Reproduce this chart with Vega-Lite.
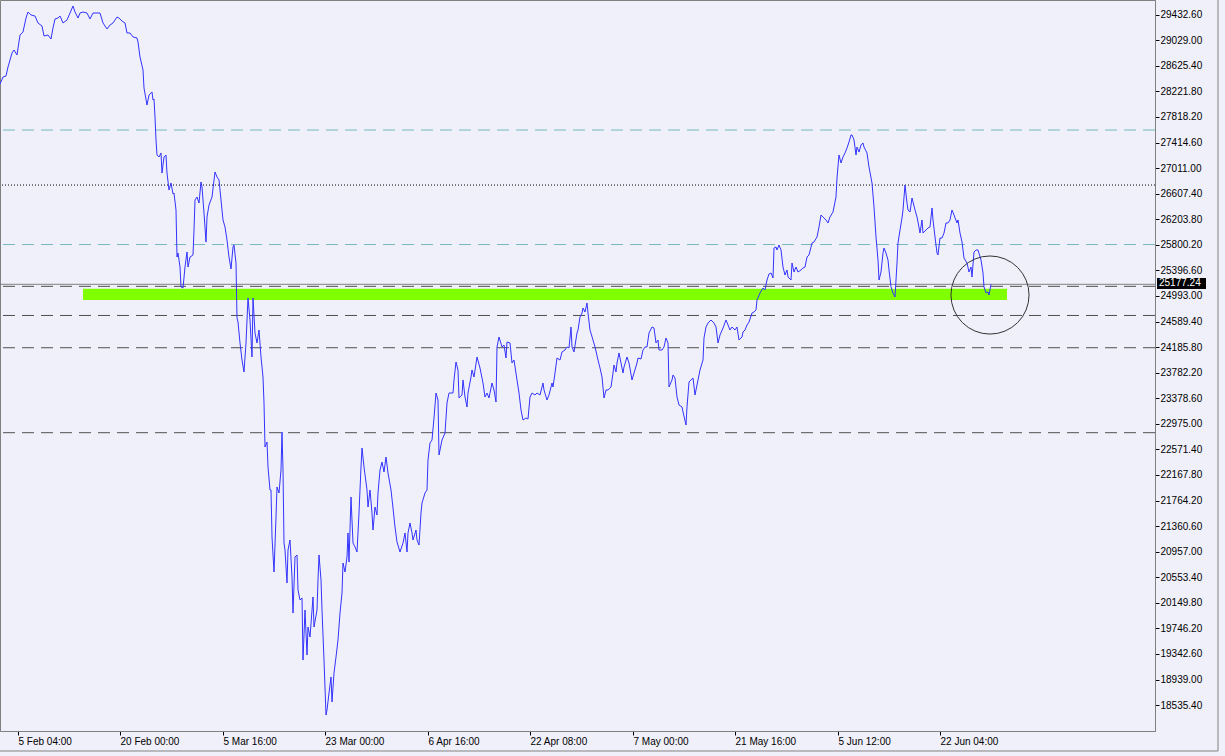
{
  "$schema": "https://vega.github.io/schema/vega-lite/v6.json",
  "width": 1155,
  "height": 731,
  "autosize": {"type": "none"},
  "padding": {"left": 0, "top": 0, "right": 70, "bottom": 25},
  "background": "#f0f0fa",
  "config": {
    "view": {"stroke": "#808080", "fill": "#f0f0fa"},
    "axis": {
      "labelFont": "Liberation Sans",
      "labelFontSize": 10,
      "labelColor": "#000000",
      "tickColor": "#000000",
      "domainColor": "#808080",
      "grid": false,
      "labelOverlap": false,
      "labelFlush": false,
      "labelBound": false
    }
  },
  "datasets": {
    "price": [
      {"i":0,"p":28339},{"i":3,"p":28449},{"i":6,"p":28465},{"i":8,"p":28607},{"i":12,"p":28828},{"i":14,"p":28875},{"i":17,"p":28797},{"i":20,"p":29112},{"i":23,"p":29160},{"i":26,"p":29380},{"i":28,"p":29475},{"i":31,"p":29428},{"i":35,"p":29412},{"i":38,"p":29302},{"i":42,"p":29254},{"i":44,"p":29096},{"i":48,"p":29112},{"i":51,"p":29049},{"i":53,"p":29223},{"i":55,"p":29365},{"i":58,"p":29380},{"i":60,"p":29412},{"i":63,"p":29302},{"i":67,"p":29349},{"i":70,"p":29459},{"i":73,"p":29570},{"i":75,"p":29475},{"i":78,"p":29380},{"i":80,"p":29459},{"i":83,"p":29475},{"i":87,"p":29459},{"i":90,"p":29365},{"i":93,"p":29459},{"i":97,"p":29459},{"i":100,"p":29459},{"i":103,"p":29302},{"i":107,"p":29207},{"i":110,"p":29270},{"i":113,"p":29302},{"i":117,"p":29396},{"i":119,"p":29380},{"i":122,"p":29333},{"i":125,"p":29302},{"i":127,"p":29144},{"i":130,"p":29144},{"i":133,"p":29081},{"i":137,"p":29065},{"i":138,"p":29002},{"i":140,"p":28765},{"i":143,"p":28560},{"i":144,"p":28276},{"i":147,"p":28007},{"i":149,"p":28165},{"i":152,"p":28213},{"i":153,"p":28086},{"i":154,"p":28102},{"i":155,"p":27818},{"i":156,"p":27455},{"i":157,"p":27218},{"i":159,"p":27187},{"i":161,"p":27250},{"i":162,"p":26934},{"i":164,"p":27187},{"i":166,"p":27218},{"i":167,"p":26934},{"i":169,"p":26666},{"i":171,"p":26776},{"i":173,"p":26603},{"i":174,"p":26618},{"i":176,"p":26350},{"i":177,"p":25608},{"i":178,"p":25671},{"i":180,"p":25450},{"i":181,"p":25135},{"i":183,"p":25119},{"i":185,"p":25450},{"i":187,"p":25687},{"i":188,"p":25450},{"i":190,"p":25608},{"i":193,"p":25640},{"i":194,"p":26034},{"i":195,"p":26508},{"i":197,"p":26555},{"i":199,"p":26460},{"i":201,"p":26792},{"i":202,"p":26713},{"i":204,"p":26303},{"i":206,"p":25845},{"i":207,"p":26240},{"i":209,"p":26429},{"i":212,"p":26555},{"i":215,"p":26950},{"i":217,"p":26871},{"i":219,"p":26824},{"i":221,"p":26508},{"i":223,"p":26192},{"i":225,"p":26082},{"i":227,"p":25876},{"i":229,"p":25608},{"i":231,"p":25419},{"i":233,"p":25766},{"i":234,"p":25798},{"i":236,"p":25513},{"i":237,"p":24645},{"i":238,"p":24582},{"i":240,"p":24251},{"i":242,"p":23982},{"i":244,"p":23793},{"i":246,"p":24251},{"i":248,"p":24961},{"i":250,"p":24614},{"i":252,"p":24030},{"i":253,"p":24961},{"i":255,"p":24409},{"i":257,"p":24251},{"i":259,"p":24456},{"i":261,"p":24030},{"i":263,"p":23714},{"i":264,"p":23304},{"i":265,"p":22609},{"i":267,"p":22688},{"i":268,"p":22294},{"i":270,"p":21930},{"i":271,"p":21930},{"i":272,"p":21189},{"i":274,"p":20636},{"i":276,"p":21504},{"i":277,"p":21978},{"i":279,"p":21883},{"i":281,"p":22246},{"i":282,"p":22846},{"i":283,"p":22246},{"i":284,"p":21094},{"i":285,"p":20983},{"i":287,"p":20463},{"i":288,"p":20983},{"i":290,"p":21141},{"i":292,"p":20557},{"i":293,"p":19989},{"i":295,"p":20873},{"i":297,"p":20905},{"i":298,"p":20352},{"i":300,"p":20194},{"i":302,"p":20226},{"i":303,"p":19247},{"i":305,"p":20036},{"i":307,"p":19326},{"i":308,"p":19768},{"i":310,"p":19610},{"i":313,"p":20242},{"i":314,"p":19768},{"i":317,"p":20036},{"i":318,"p":20510},{"i":319,"p":20905},{"i":321,"p":20510},{"i":322,"p":20036},{"i":324,"p":19247},{"i":326,"p":18379},{"i":327,"p":18458},{"i":329,"p":18726},{"i":331,"p":18979},{"i":332,"p":18584},{"i":334,"p":19042},{"i":336,"p":19295},{"i":338,"p":19563},{"i":340,"p":19989},{"i":342,"p":20305},{"i":343,"p":20778},{"i":345,"p":20636},{"i":347,"p":20873},{"i":348,"p":21252},{"i":349,"p":20794},{"i":351,"p":21820},{"i":353,"p":21094},{"i":355,"p":21031},{"i":357,"p":20952},{"i":359,"p":21567},{"i":361,"p":22294},{"i":362,"p":22593},{"i":364,"p":22294},{"i":367,"p":21930},{"i":368,"p":21662},{"i":370,"p":21930},{"i":372,"p":21567},{"i":373,"p":21299},{"i":375,"p":21662},{"i":377,"p":21536},{"i":378,"p":21883},{"i":380,"p":22246},{"i":382,"p":22372},{"i":384,"p":22215},{"i":386,"p":22451},{"i":388,"p":22199},{"i":391,"p":21930},{"i":393,"p":21646},{"i":395,"p":21346},{"i":397,"p":21110},{"i":400,"p":20952},{"i":403,"p":21094},{"i":405,"p":21252},{"i":407,"p":20952},{"i":408,"p":21252},{"i":410,"p":21410},{"i":412,"p":21252},{"i":413,"p":21141},{"i":416,"p":21299},{"i":417,"p":21141},{"i":419,"p":21062},{"i":421,"p":21567},{"i":422,"p":21725},{"i":425,"p":21883},{"i":427,"p":21930},{"i":428,"p":22404},{"i":430,"p":22672},{"i":432,"p":22720},{"i":434,"p":23067},{"i":436,"p":23461},{"i":438,"p":23351},{"i":439,"p":22483},{"i":442,"p":22720},{"i":445,"p":22830},{"i":447,"p":23304},{"i":449,"p":23461},{"i":453,"p":23461},{"i":454,"p":23667},{"i":456,"p":23951},{"i":458,"p":23825},{"i":459,"p":23383},{"i":462,"p":23430},{"i":463,"p":23667},{"i":465,"p":23398},{"i":467,"p":23241},{"i":468,"p":23461},{"i":471,"p":23714},{"i":472,"p":23825},{"i":474,"p":23714},{"i":477,"p":24030},{"i":480,"p":23856},{"i":483,"p":23619},{"i":485,"p":23398},{"i":487,"p":23461},{"i":489,"p":23383},{"i":492,"p":23619},{"i":494,"p":23509},{"i":496,"p":23319},{"i":497,"p":24188},{"i":499,"p":24345},{"i":502,"p":24188},{"i":504,"p":24219},{"i":506,"p":24014},{"i":507,"p":24267},{"i":510,"p":24251},{"i":512,"p":23935},{"i":514,"p":23982},{"i":517,"p":23667},{"i":519,"p":23461},{"i":521,"p":23193},{"i":523,"p":23035},{"i":526,"p":23067},{"i":528,"p":23051},{"i":530,"p":23398},{"i":532,"p":23461},{"i":535,"p":23430},{"i":537,"p":23461},{"i":540,"p":23430},{"i":543,"p":23619},{"i":544,"p":23509},{"i":547,"p":23351},{"i":549,"p":23430},{"i":552,"p":23619},{"i":553,"p":23556},{"i":555,"p":23777},{"i":557,"p":24014},{"i":560,"p":23982},{"i":562,"p":24109},{"i":565,"p":24140},{"i":567,"p":24188},{"i":569,"p":24172},{"i":571,"p":24503},{"i":572,"p":24188},{"i":574,"p":24109},{"i":577,"p":24409},{"i":578,"p":24456},{"i":580,"p":24661},{"i":582,"p":24724},{"i":583,"p":24803},{"i":585,"p":24740},{"i":587,"p":24882},{"i":588,"p":24724},{"i":590,"p":24456},{"i":593,"p":24298},{"i":595,"p":24188},{"i":598,"p":23982},{"i":600,"p":23856},{"i":602,"p":23714},{"i":604,"p":23383},{"i":606,"p":23509},{"i":608,"p":23509},{"i":611,"p":23556},{"i":613,"p":23777},{"i":614,"p":23903},{"i":616,"p":23793},{"i":617,"p":23935},{"i":619,"p":24093},{"i":621,"p":23935},{"i":623,"p":23777},{"i":624,"p":23872},{"i":627,"p":24030},{"i":629,"p":23935},{"i":632,"p":23667},{"i":634,"p":23777},{"i":637,"p":23935},{"i":638,"p":24014},{"i":641,"p":23998},{"i":643,"p":24140},{"i":645,"p":24188},{"i":647,"p":24188},{"i":649,"p":24409},{"i":652,"p":24503},{"i":654,"p":24487},{"i":656,"p":24251},{"i":658,"p":24298},{"i":659,"p":24140},{"i":662,"p":24140},{"i":664,"p":24188},{"i":666,"p":24330},{"i":668,"p":24251},{"i":669,"p":23556},{"i":672,"p":23667},{"i":673,"p":23746},{"i":675,"p":23698},{"i":677,"p":23398},{"i":679,"p":23272},{"i":682,"p":23241},{"i":683,"p":23162},{"i":686,"p":22956},{"i":687,"p":23241},{"i":689,"p":23635},{"i":691,"p":23667},{"i":693,"p":23698},{"i":695,"p":23430},{"i":698,"p":23667},{"i":700,"p":23825},{"i":703,"p":23982},{"i":704,"p":24330},{"i":706,"p":24503},{"i":708,"p":24566},{"i":711,"p":24614},{"i":714,"p":24566},{"i":716,"p":24503},{"i":718,"p":24251},{"i":720,"p":24377},{"i":723,"p":24487},{"i":726,"p":24614},{"i":728,"p":24535},{"i":730,"p":24456},{"i":732,"p":24503},{"i":735,"p":24456},{"i":737,"p":24503},{"i":739,"p":24298},{"i":742,"p":24345},{"i":743,"p":24424},{"i":745,"p":24456},{"i":747,"p":24535},{"i":749,"p":24582},{"i":752,"p":24724},{"i":754,"p":24740},{"i":756,"p":24772},{"i":757,"p":24929},{"i":760,"p":25040},{"i":763,"p":25119},{"i":765,"p":25087},{"i":767,"p":25245},{"i":769,"p":25340},{"i":771,"p":25356},{"i":773,"p":25277},{"i":774,"p":25750},{"i":776,"p":25766},{"i":777,"p":25719},{"i":779,"p":25798},{"i":781,"p":25719},{"i":783,"p":25450},{"i":785,"p":25324},{"i":787,"p":25403},{"i":788,"p":25292},{"i":791,"p":25245},{"i":792,"p":25513},{"i":794,"p":25371},{"i":796,"p":25450},{"i":798,"p":25371},{"i":801,"p":25403},{"i":803,"p":25435},{"i":805,"p":25450},{"i":807,"p":25608},{"i":809,"p":25640},{"i":812,"p":25829},{"i":814,"p":25845},{"i":817,"p":25924},{"i":819,"p":26082},{"i":821,"p":26271},{"i":823,"p":26240},{"i":826,"p":26192},{"i":828,"p":26145},{"i":830,"p":26240},{"i":833,"p":26318},{"i":836,"p":26555},{"i":837,"p":26855},{"i":839,"p":27218},{"i":841,"p":27092},{"i":843,"p":27187},{"i":845,"p":27250},{"i":847,"p":27329},{"i":849,"p":27423},{"i":851,"p":27534},{"i":852,"p":27534},{"i":854,"p":27455},{"i":856,"p":27218},{"i":857,"p":27344},{"i":859,"p":27265},{"i":861,"p":27376},{"i":863,"p":27408},{"i":864,"p":27344},{"i":867,"p":27250},{"i":869,"p":27029},{"i":872,"p":26776},{"i":874,"p":26397},{"i":876,"p":25924},{"i":878,"p":25561},{"i":879,"p":25245},{"i":881,"p":25371},{"i":883,"p":25671},{"i":884,"p":25750},{"i":886,"p":25671},{"i":888,"p":25561},{"i":889,"p":25403},{"i":891,"p":25135},{"i":893,"p":25040},{"i":895,"p":24977},{"i":897,"p":25513},{"i":898,"p":25829},{"i":900,"p":26034},{"i":902,"p":26224},{"i":903,"p":26350},{"i":905,"p":26745},{"i":907,"p":26460},{"i":908,"p":26350},{"i":910,"p":26318},{"i":912,"p":26539},{"i":913,"p":26476},{"i":915,"p":26350},{"i":917,"p":26240},{"i":918,"p":26161},{"i":920,"p":25987},{"i":922,"p":26192},{"i":923,"p":25987},{"i":926,"p":26034},{"i":928,"p":26066},{"i":930,"p":26082},{"i":932,"p":26382},{"i":933,"p":26192},{"i":935,"p":25924},{"i":937,"p":25671},{"i":938,"p":25640},{"i":940,"p":25908},{"i":942,"p":25908},{"i":944,"p":25987},{"i":946,"p":26145},{"i":948,"p":26145},{"i":950,"p":26192},{"i":952,"p":26350},{"i":954,"p":26271},{"i":957,"p":26145},{"i":958,"p":26192},{"i":960,"p":25987},{"i":962,"p":25845},{"i":964,"p":25592},{"i":967,"p":25513},{"i":969,"p":25371},{"i":971,"p":25450},{"i":972,"p":25292},{"i":974,"p":25687},{"i":976,"p":25719},{"i":978,"p":25719},{"i":981,"p":25561},{"i":983,"p":25356},{"i":984,"p":25135},{"i":986,"p":25040},{"i":988,"p":25056},{"i":989,"p":25008},{"i":991,"p":25177}
    ],
    "levels": [
      {"p": 27612, "kind": "teal"},
      {"p": 25805, "kind": "teal"},
      {"p": 26744, "kind": "dotted"},
      {"p": 25177.24, "kind": "bid"},
      {"p": 25145, "kind": "dashed"},
      {"p": 24685, "kind": "dashed"},
      {"p": 24176, "kind": "dashed"},
      {"p": 22835, "kind": "dashed"}
    ],
    "zones": [
      {"from": 83, "to": 1007, "lo": 24930, "hi": 25105}
    ],
    "marker": [
      {"i": 990, "p": 25008}
    ]
  },
  "layer": [
    {
      "data": {"name": "price"},
      "mark": {"type": "line", "color": "#3333ff", "strokeWidth": 1, "opacity": 0},
      "encoding": {
        "x": {
          "field": "i",
          "type": "quantitative",
          "scale": {"domain": [0, 1155], "nice": false, "zero": false},
          "axis": {
            "orient": "bottom",
            "title": null,
            "values": [18, 120, 223, 325, 428, 530, 633, 735, 838, 940],
            "labelExpr": "['5 Feb 04:00','20 Feb 00:00','5 Mar 16:00','23 Mar 00:00','6 Apr 16:00','22 Apr 08:00','7 May 00:00','21 May 16:00','5 Jun 12:00','22 Jun 04:00'][indexof([18,120,223,325,428,530,633,735,838,940], datum.value)]",
            "labelAlign": "left",
            "labelBaseline": "top",
            "labelOverlap": false,
            "tickCount": 40,
            "tickSize": 4,
            "labelPadding": 1
          }
        },
        "y": {
          "field": "p",
          "type": "quantitative",
          "scale": {"domain": [18126.5, 29664.6], "nice": false, "zero": false},
          "axis": {
            "orient": "right",
            "title": null,
            "values": [18535.4, 18939, 19342.6, 19746.2, 20149.8, 20553.4, 20957, 21360.6, 21764.2, 22167.8, 22571.4, 22975, 23378.6, 23782.2, 24185.8, 24589.4, 24993, 25396.6, 25800.2, 26203.8, 26607.4, 27011, 27414.6, 27818.2, 28221.8, 28625.4, 29029, 29432.6],
            "format": ".2f",
            "labelOverlap": false,
            "labelBaseline": "middle",
            "tickCount": 40,
            "tickSize": 4,
            "labelPadding": 1
          }
        }
      }
    },
    {
      "data": {"name": "zones"},
      "mark": {"type": "rect", "color": "#7fff00"},
      "encoding": {
        "x": {"field": "from", "type": "quantitative"},
        "x2": {"field": "to"},
        "y": {"field": "hi", "type": "quantitative"},
        "y2": {"field": "lo"}
      }
    },
    {
      "data": {"name": "levels"},
      "transform": [{"filter": "datum.kind == 'teal'"}],
      "mark": {"type": "rule", "color": "#74b9be", "strokeWidth": 1, "strokeDash": [12, 7]},
      "encoding": {"y": {"field": "p", "type": "quantitative"}}
    },
    {
      "data": {"name": "levels"},
      "transform": [{"filter": "datum.kind == 'dotted'"}],
      "mark": {"type": "rule", "color": "#000000", "strokeWidth": 1, "strokeDash": [1, 2]},
      "encoding": {"y": {"field": "p", "type": "quantitative"}}
    },
    {
      "data": {"name": "levels"},
      "transform": [{"filter": "datum.kind == 'dashed'"}],
      "mark": {"type": "rule", "color": "#505050", "strokeWidth": 1, "strokeDash": [12, 7]},
      "encoding": {"y": {"field": "p", "type": "quantitative"}}
    },
    {
      "data": {"name": "levels"},
      "transform": [{"filter": "datum.kind == 'bid'"}],
      "mark": {"type": "rule", "color": "#808080", "strokeWidth": 1},
      "encoding": {"y": {"field": "p", "type": "quantitative"}}
    },
    {
      "data": {"name": "price"},
      "mark": {"type": "line", "color": "#3333ff", "strokeWidth": 1},
      "encoding": {
        "x": {"field": "i", "type": "quantitative"},
        "y": {"field": "p", "type": "quantitative"}
      }
    },
    {
      "data": {"name": "marker"},
      "mark": {"type": "point", "shape": "circle", "filled": false, "size": 6100, "stroke": "#333333", "strokeWidth": 1, "opacity": 1},
      "encoding": {
        "x": {"field": "i", "type": "quantitative"},
        "y": {"field": "p", "type": "quantitative"}
      }
    },
    {
      "data": {"values": [{}]},
      "mark": {"type": "rect", "color": "#000000"},
      "encoding": {
        "x": {"datum": 1157, "type": "quantitative"},
        "x2": {"datum": 1206},
        "y": {"datum": 25276, "type": "quantitative"},
        "y2": {"datum": 25103}
      }
    },
    {
      "data": {"values": [{"label": "25177.24"}]},
      "mark": {"type": "text", "color": "#ffffff", "font": "Liberation Sans", "fontSize": 10, "align": "left", "baseline": "middle", "dx": 2},
      "encoding": {
        "x": {"datum": 1157, "type": "quantitative"},
        "y": {"datum": 25190, "type": "quantitative"},
        "text": {"field": "label", "type": "nominal"}
      }
    },
    {
      "data": {"values": [{}]},
      "mark": {"type": "rule", "color": "#808080", "strokeWidth": 1},
      "encoding": {
        "x": {"datum": 1218, "type": "quantitative"},
        "y": {"datum": 29664.6, "type": "quantitative"},
        "y2": {"datum": 17811}
      }
    },
    {
      "data": {"values": [{}]},
      "mark": {"type": "rule", "color": "#808080", "strokeWidth": 1},
      "encoding": {
        "x": {"datum": 0, "type": "quantitative"},
        "x2": {"datum": 1218},
        "y": {"datum": 17811, "type": "quantitative"}
      }
    }
  ]
}
